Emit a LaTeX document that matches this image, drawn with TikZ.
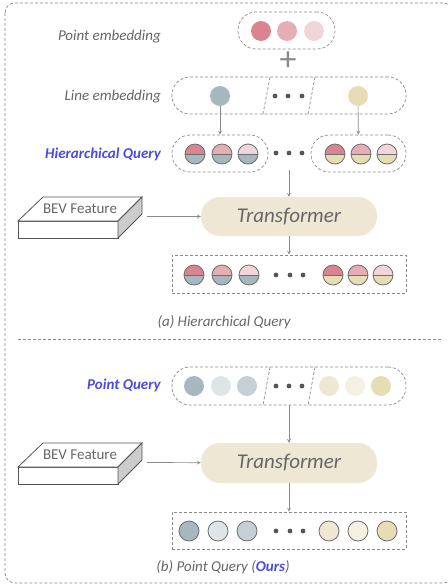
\documentclass[tikz,border=0pt]{standalone}
\usepackage{fontspec}
\setmainfont{Carlito}
\usetikzlibrary{positioning}

\definecolor{pkA}{HTML}{D98490}
\definecolor{pkB}{HTML}{E6AEB4}
\definecolor{pkC}{HTML}{F2D5DA}
\definecolor{blG}{HTML}{A6B7BD}
\definecolor{blL}{HTML}{DFE5E7}
\definecolor{blM}{HTML}{C4D0D3}
\definecolor{ylA}{HTML}{E6DDB5}
\definecolor{ylL}{HTML}{F4F1E3}
\definecolor{ylM}{HTML}{EEE7D2}
\definecolor{tfcol}{HTML}{EEE7D3}
\definecolor{dashgray}{HTML}{8A8A8A}
\definecolor{txtgray}{HTML}{666666}
\definecolor{ringgray}{HTML}{6E6E6E}
\definecolor{dotgray}{HTML}{555555}
\definecolor{qblue}{HTML}{4A4ADF}

\tikzset{
  frame/.style={draw=dashgray, dash pattern=on 3pt off 2pt, line width=0.7pt},
  pill/.style={frame, rounded corners=18pt, minimum height=37pt},
  ball/.style={circle, fill=#1, minimum size=20pt, inner sep=0pt},
  ring/.style={ball=#1, draw=ringgray, line width=0.8pt},
  hq/.style 2 args={circle, minimum size=20pt, inner sep=0pt, draw=ringgray, line width=0.8pt, fill=#2,
    path picture={\fill[#1] (path picture bounding box.west) rectangle (path picture bounding box.north east);
      \draw[ringgray, line width=0.8pt] (path picture bounding box.west) -- (path picture bounding box.east);}},
  lbl/.style={text=txtgray, font=\fontsize{15}{17}\selectfont\itshape, anchor=east, inner sep=0pt},
  qlbl/.style={text=qblue, font=\fontsize{15}{17}\selectfont\bfseries\itshape, anchor=east, inner sep=0pt},
  capt/.style={text=txtgray, font=\fontsize{15}{17}\selectfont\itshape, inner sep=0pt},
  tf/.style={fill=tfcol, rounded corners=19pt, minimum width=176pt, minimum height=39pt,
    text=txtgray, font=\fontsize{21}{23}\selectfont\itshape},
  link/.style={->, draw=dashgray, line width=0.7pt},
}

% 3d slab with its label
\newcommand{\bevslab}[2]{%
  \begin{scope}[shift={(0,#1)}]
    \draw[dotgray, line width=0.8pt, fill=white] (18,221) rectangle (118,238);
    \draw[dotgray, line width=0.8pt, fill=white] (18,221) -- (43,197) -- (142,197) -- (118,221) -- cycle;
    \draw[dotgray, line width=0.8pt, fill=black!20] (118,221) -- (142,197) -- (142,214) -- (118,238) -- cycle;
    \node[text=txtgray, font=\fontsize{15}{17}\selectfont] (#2) at (80,209) {BEV Feature};
  \end{scope}}

\begin{document}
\begin{tikzpicture}[x=1pt, y=-1pt, >=stealth]
\useasboundingbox (0,0) rectangle (447,586);
\draw[frame, rounded corners=10pt] (5,3) rectangle (453,583);

%% (a) hierarchical query
\node[lbl] (pel) at (161,37) {Point embedding};
\node[pill, minimum width=97pt] (pe) at (286.5,30.5) {};
\foreach \x/\c [count=\i] in {261/pkA, 287/pkB, 314/pkC}
    \node[ball=\c] (pe\i) at (\x,31) {};
\node[text=dashgray, font=\fontsize{34}{34}\selectfont] (plus) at (288,61) {+};

\node[lbl] (lel) at (161,97) {Line embedding};
\node[pill, minimum width=234pt] (le) at (289,95.5) {};
\draw[frame] (270,77) -- (263,114);
\draw[frame] (315,77) -- (308,114);
\node[ball=blG] (le1) at (220,96) {};
\node[ball=ylA] (le2) at (358,96) {};
\foreach \x in {275,288,302}
    \fill[dotgray] (\x,96) circle (2.4);

\node[qlbl] (hql) at (161,154) {Hierarchical Query};
\node[pill, minimum width=96pt] (hqa) at (220,153.5) {};
\node[pill, minimum width=95pt] (hqb) at (358.5,153.5) {};
\foreach \x/\c [count=\i] in {195/pkA, 222/pkB, 248/pkC}
    \node[hq={\c}{blG}] (hqa\i) at (\x,154) {};
\foreach \x/\c [count=\i] in {335/pkA, 361/pkB, 387/pkC}
    \node[hq={\c}{ylA}] (hqb\i) at (\x,154) {};
\foreach \x in {276,289,302}
    \fill[dotgray] (\x,153) circle (2.4);
\draw[link] (le1) -- (hqa);
\draw[link] (le2) -- (hqb);

\node[tf] (tfa) at (289,216.5) {Transformer};
\coordinate (hqo) at (289,170);
\draw[link] (hqo) -- (tfa);

\bevslab{0}{beva}
\coordinate (bevao) at (147,216.5);
\draw[link] (bevao) -- (tfa);

\node[frame, minimum width=234pt, minimum height=38pt] (oa) at (289,274) {};
\foreach \x/\c [count=\i] in {194/pkA, 222/pkB, 249/pkC}
    \node[hq={\c}{blG}] (oa\i) at (\x,275) {};
\foreach \x/\c [count=\i] in {333/pkA, 358/pkB, 383/pkC}
    \node[hq={\c}{ylA}] (ob\i) at (\x,275) {};
\foreach \x in {276,290,303}
    \fill[dotgray] (\x,275) circle (2.4);
\draw[link] (tfa) -- (oa);

\node[capt] (capa) at (224,322) {(a) Hierarchical Query};
\draw[frame] (18,339) -- (441,339);

%% (b) point query
\node[qlbl] (pql) at (161,385) {Point Query};
\node[pill, minimum width=234pt, minimum height=38pt] (pq) at (289,386) {};
\draw[frame] (270,367) -- (263,405);
\draw[frame] (315,367) -- (308,405);
\foreach \x/\c [count=\i] in {194/blG, 221/blL, 247/blM, 329/ylM, 355/ylL, 381/ylA}
    \node[ball=\c] (pq\i) at (\x,386) {};
\foreach \x in {276,289,302}
    \fill[dotgray] (\x,386) circle (2.4);

\node[tf, minimum height=40pt] (tfb) at (289,463) {Transformer};
\draw[link] (pq) -- (tfb);

\bevslab{246}{bevb}
\coordinate (bevbo) at (147,462.5);
\draw[link] (bevbo) -- (tfb);

\node[frame, minimum width=234pt, minimum height=37pt] (ob) at (289,530.5) {};
\foreach \x/\c [count=\i] in {189/blG, 218/blL, 247/blM, 329/ylM, 358/ylL, 387/ylA}
    \node[ring=\c] (ob\i) at (\x,531) {};
\foreach \x in {276,290,303}
    \fill[dotgray] (\x,531) circle (2.4);
\draw[link] (tfb) -- (ob);

\node[capt] (capb) at (223,567) {(b) Point Query (\textcolor{qblue}{\bfseries Ours})};
\end{tikzpicture}
\end{document}
